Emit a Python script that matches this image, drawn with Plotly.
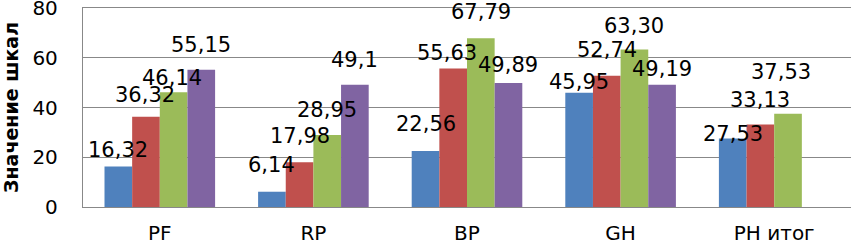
import plotly.graph_objects as go

categories = ["PF", "RP", "BP", "GH", "PH итог"]
series1 = [16.32, 6.14, 22.56, 45.95, 27.53]
series2 = [36.32, 17.98, 55.63, 52.74, 33.13]
series3 = [46.14, 28.95, 67.79, 63.30, 37.53]
series4 = [55.15, 49.1, 49.89, 49.19, None]
label_texts = [
    ["16,32", "6,14", "22,56", "45,95", "27,53"],
    ["36,32", "17,98", "55,63", "52,74", "33,13"],
    ["46,14", "28,95", "67,79", "63,30", "37,53"],
    ["55,15", "49,1", "49,89", "49,19", None],
]
y_ticks = [0, 20, 40, 60, 80]

# style: colours and label placement (pixel offsets above bar tops)
colors = ["#4F81BD", "#C0504D", "#9BBB59", "#8064A2"]
label_dy = [
    [16, 27, 27, 11, 5],
    [22, 26, 16, 26, 25],
    [14, 25, 26, 24, 42],
    [25, 25, 18, 16, 0],
]
label_dx = [
    [0, 0, 0, 0, 0],
    [-1, 0, -6, 0, 0],
    [-2, 0, 0, 0, -7],
    [0, 0, 0, 0, 0],
]

W, H = 852, 248
ML, MR, MT, MB = 83, 1, 8, 41
BARGAP = 0.28
cat_w = (W - ML - MR) / len(categories)
bar_w = cat_w * (1 - BARGAP) / 4

fig = go.Figure()
all_series = [series1, series2, series3, series4]
for i, s in enumerate(all_series):
    fig.add_trace(go.Bar(x=categories, y=s, marker=dict(color=colors[i], line=dict(width=0)),
                         showlegend=False, hoverinfo="skip"))

annotations = []
for i, s in enumerate(all_series):
    offset = (i - 1.5) * bar_w
    for j, v in enumerate(s):
        if v is None:
            continue
        annotations.append(dict(
            x=categories[j], y=v, xref="x", yref="y",
            text=label_texts[i][j], showarrow=False,
            xanchor="center", yanchor="middle",
            xshift=offset + label_dx[i][j], yshift=label_dy[i][j],
            font=dict(family="DejaVu Sans", size=21, color="#000000"),
        ))

fig.update_layout(
    width=W, height=H,
    margin=dict(l=ML, r=MR, t=MT, b=MB, autoexpand=False),
    barmode="group", bargap=BARGAP, bargroupgap=0,
    plot_bgcolor="white", paper_bgcolor="white",
    annotations=annotations,
    font=dict(family="DejaVu Sans", color="#000000"),
)
fig.update_xaxes(
    showline=True, linecolor="#888888", linewidth=1.3, mirror=True,
    showgrid=False, ticks="outside", ticklen=0,
    ticklabelstandoff=8,
    tickfont=dict(family="DejaVu Sans", size=20, color="#000000"),
)
fig.update_yaxes(
    range=[0, 80], tickvals=y_ticks,
    showline=True, linecolor="#888888", linewidth=1.3,
    showgrid=True, gridcolor="#888888", gridwidth=1.3,
    zeroline=False, ticks="outside", ticklen=0,
    ticklabelstandoff=20, ticklabeloverflow="allow",
    tickfont=dict(family="DejaVu Sans", size=20, color="#000000"),
    title=dict(text="Значение шкал", standoff=12,
               font=dict(family="DejaVu Sans", size=19, color="#000000", weight="bold")),
    automargin=False,
)
fig.write_html("out.html", config={"displayModeBar": False},
               post_script="document.body.style.margin='0';")
